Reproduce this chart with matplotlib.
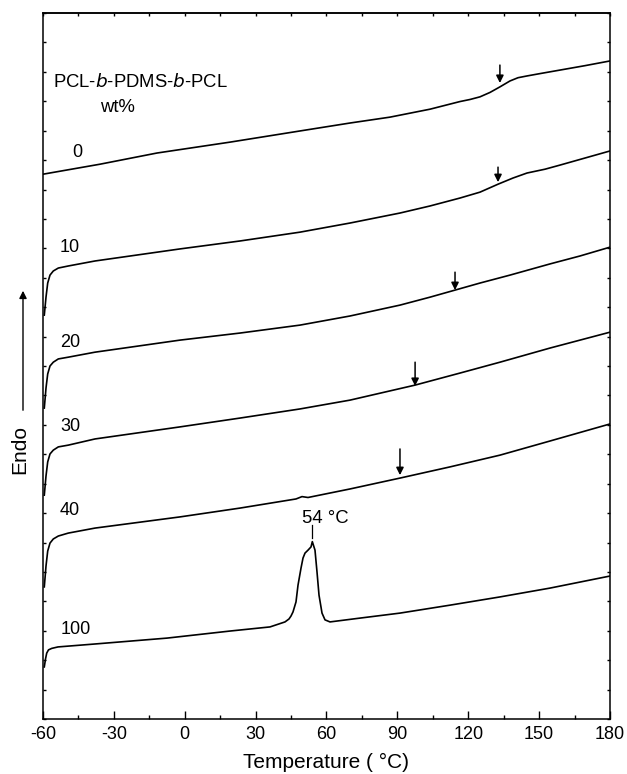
import matplotlib
matplotlib.use("Agg")
import matplotlib.pyplot as plt
from matplotlib.ticker import MultipleLocator, NullFormatter

plt.rcParams['font.family'] = ['Liberation Sans', 'DejaVu Sans']

# ---- data (temperature in °C, heat flow in arbitrary offset units) ----
T0 = [-60.0, -35.87, -11.75, 19.15, 48.78, 69.95, 86.88, 103.81, 116.51, 120.74, 124.97, 129.21,
      133.44, 137.67, 141.06, 144.87, 150.37, 158.84, 169.42, 180.0]
Y0 = [18.52, 18.86, 19.24, 19.61, 19.99, 20.26, 20.46, 20.73, 20.99, 21.06, 21.15, 21.30,
      21.49, 21.69, 21.80, 21.86, 21.94, 22.06, 22.21, 22.37]

T10 = [-59.45, -58.73, -58.01, -57.04, -55.64, -53.52, -49.29, -37.99, -2.01, 23.39, 48.78, 69.95,
       91.11, 103.81, 116.51, 124.97, 132.59, 138.94, 144.87, 152.49, 158.84, 169.42, 180.0]
Y10 = [13.73, 14.34, 14.82, 15.09, 15.23, 15.33, 15.40, 15.57, 15.98, 16.25, 16.55, 16.86,
       17.20, 17.44, 17.71, 17.91, 18.18, 18.39, 18.56, 18.69, 18.83, 19.07, 19.31]

T20 = [-59.45, -58.73, -58.01, -57.04, -55.64, -53.52, -49.29, -37.99, -2.01, 23.39, 48.78, 69.95,
       91.11, 103.81, 114.39, 124.97, 137.67, 154.60, 167.30, 180.0]
Y20 = [10.57, 11.25, 11.73, 12.00, 12.13, 12.24, 12.30, 12.47, 12.88, 13.12, 13.39, 13.70,
       14.07, 14.34, 14.58, 14.82, 15.09, 15.47, 15.74, 16.04]

T30 = [-59.45, -58.73, -58.01, -57.04, -55.64, -53.52, -49.29, -37.99, -2.01, 23.39, 48.78, 69.95,
       97.46, 116.51, 133.44, 154.60, 180.0]
Y30 = [7.61, 8.26, 8.74, 9.01, 9.14, 9.25, 9.31, 9.52, 9.93, 10.23, 10.54, 10.84,
       11.35, 11.76, 12.13, 12.61, 13.15]

T40 = [-59.45, -58.73, -58.01, -57.04, -55.64, -53.52, -49.29, -37.99, -2.01, 23.39, 47.09, 49.63,
       52.17, 69.95, 91.11, 112.27, 133.44, 154.60, 180.0]
Y40 = [4.49, 5.20, 5.71, 5.98, 6.12, 6.22, 6.32, 6.49, 6.87, 7.17, 7.48, 7.56,
       7.53, 7.82, 8.19, 8.57, 8.97, 9.45, 10.03]

T100 = [-59.45, -58.94, -58.43, -57.67, -56.32, -53.65, -37.99, -7.51, 19.15, 36.08, 42.43, 44.12,
        44.97, 45.82, 47.09, 47.94, 49.21, 50.05, 50.90, 52.17, 53.44, 54.0, 55.13, 55.98,
        56.83, 58.10, 59.37, 61.48, 74.18, 91.11, 112.27, 133.44, 154.60, 180.0]
Y100 = [1.77, 2.04, 2.24, 2.35, 2.40, 2.45, 2.55, 2.75, 2.99, 3.13, 3.30, 3.40,
        3.50, 3.64, 3.98, 4.55, 5.13, 5.47, 5.64, 5.74, 5.85, 6.03, 5.74, 5.00,
        4.21, 3.60, 3.37, 3.30, 3.43, 3.60, 3.87, 4.15, 4.45, 4.86]

series_T = [T0, T10, T20, T30, T40, T100]
series_Y = [Y0, Y10, Y20, Y30, Y40, Y100]

labels = ["0", "10", "20", "30", "40", "100"]
label_T = [-45.6, -48.6, -48.6, -48.6, -48.6, -46.0]
label_Y = [19.27, 16.04, 12.81, 9.93, 7.10, 3.03]

# glass-transition arrows: temperature, tail y, head y
arrow_T = [133.4, 132.6, 114.4, 97.5, 91.1]
arrow_y0 = [22.23, 18.76, 15.19, 12.13, 9.18]
arrow_y1 = [21.62, 18.25, 14.58, 11.32, 8.29]

peak_T = 54.0
xticks = [-60, -30, 0, 30, 60, 90, 120, 150, 180]

# ---- figure ----
fig = plt.figure(figsize=(6.27, 7.74), dpi=100)
ax = fig.add_axes([43/627, 55/774, 567/627, 706/774])

for T, Y in zip(series_T, series_Y):
    ax.plot(T, Y, color='black', lw=1.2, solid_joinstyle='round')

for lab, tx, ty in zip(labels, label_T, label_Y):
    ax.text(tx, ty, lab, fontsize=13, ha='center', va='center')

for tx, y0, y1 in zip(arrow_T, arrow_y0, arrow_y1):
    ax.annotate('', xy=(tx, y1), xytext=(tx, y0),
                arrowprops=dict(arrowstyle='-|>', color='black', lw=1.1,
                                mutation_scale=11, shrinkA=0, shrinkB=0))

ax.text(-55.8, 21.65, "PCL-$\\mathit{b}$-PDMS-$\\mathit{b}$-PCL", fontsize=13.3, ha='left', va='center')
ax.text(-28.3, 20.80, "wt%", fontsize=13.3, ha='center', va='center')

ax.text(59.4, 6.83, "54 °C", fontsize=13.3, ha='center', va='center')
ax.plot([peak_T, peak_T], [6.15, 6.59], color='black', lw=0.9)

ax.set_xlim(-60, 180)
ax.set_ylim(0, 24)
ax.set_xticks(xticks)
ax.set_xticklabels([str(v) for v in xticks], fontsize=13)
ax.xaxis.set_minor_locator(MultipleLocator(15))
ax.tick_params(axis='x', which='major', direction='in', length=6, width=1, pad=5)
ax.tick_params(axis='x', which='minor', direction='in', length=3, width=1)
ax.yaxis.set_major_locator(MultipleLocator(1))
ax.yaxis.set_major_formatter(NullFormatter())
ax.tick_params(axis='y', which='major', direction='in', length=2.5, width=1,
               left=True, right=True)

top = ax.secondary_xaxis('top')
top.set_xticks(list(range(-60, 181, 15)))
top.xaxis.set_major_formatter(NullFormatter())
top.tick_params(direction='in', length=2.5, width=1)

for s in ax.spines.values():
    s.set_linewidth(1.1)
top.spines['top'].set_linewidth(1.1)

ax.set_xlabel("Temperature ( °C)", fontsize=15, labelpad=7)

# Endo label and arrow
fig.text(20/627, (774-449)/774, "Endo", rotation=90, fontsize=15, ha='center', va='center')
fig.add_artist(matplotlib.patches.FancyArrowPatch(
    (23/627, (774-413)/774), (23/627, (774-288)/774), transform=fig.transFigure,
    arrowstyle='-|>', mutation_scale=11, color='black', lw=1.0))

fig.savefig("out.png", dpi=100)
